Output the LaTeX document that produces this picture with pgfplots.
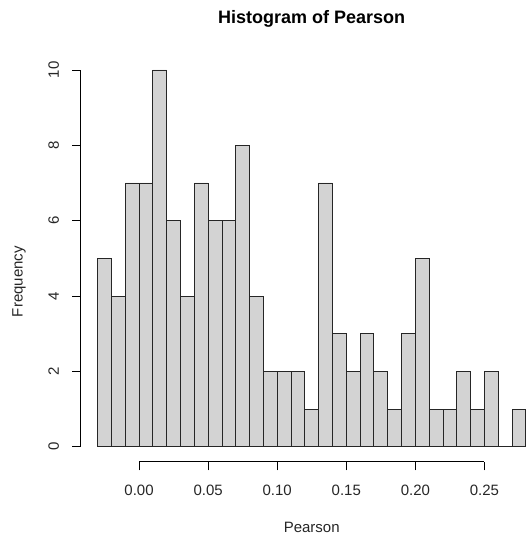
\documentclass[border=0pt]{standalone}
\usepackage{fontspec}
\setmainfont{Liberation Sans}
\usepackage{pgfplots}
\usepackage{pgfplotstable}
\pgfplotsset{compat=1.18}
\definecolor{histfill}{RGB}{211,211,211}

% bin left edges (width 0.01) and counts; last row closes the final interval
\pgfplotstableread{
x      y
-0.03  5
-0.02  4
-0.01  7
0.00   7
0.01   10
0.02   6
0.03   4
0.04   7
0.05   6
0.06   6
0.07   8
0.08   4
0.09   2
0.10   2
0.11   2
0.12   1
0.13   7
0.14   3
0.15   2
0.16   3
0.17   2
0.18   1
0.19   3
0.20   5
0.21   1
0.22   1
0.23   2
0.24   1
0.25   2
0.26   0
0.27   1
0.28   0
}\pearson

\begin{document}
\begin{tikzpicture}[x=1pt,y=1pt]
\useasboundingbox (0,0) rectangle (526,540);
\begin{axis}[
  at={(80.5pt,78.2pt)}, anchor=south west,
  scale only axis, width=462.5pt, height=406.9pt,
  xmin=-0.0424, xmax=0.2924, ymin=-0.4, ymax=10.4,
  axis x line*=bottom, axis y line*=left,
  axis line style={draw=none},
  clip=false,
  xtick={0,0.05,0.10,0.15,0.20,0.25},
  xticklabels={0.00,0.05,0.10,0.15,0.20,0.25},
  ytick={0,2,4,6,8,10},
  yticklabels={0,2,4,6,8,10},
  tick align=outside,
  major tick length=8.5pt,
  tick style={black, line width=0.9pt},
  /pgf/number format/assume math mode=true,
  ticklabel style={font=\fontsize{15}{18}\selectfont, text=black!85},
  xticklabel style={anchor=base, inner sep=0pt, yshift=-25pt},
  % rotated labels: yshift acts along the rotated frame, i.e. to the left
  yticklabel style={rotate=90, anchor=base, inner sep=0pt, yshift=13pt},
]
\addplot[ybar interval, fill=histfill, draw=black!85, line width=0.9pt]
  table[x=x, y=y] {\pearson};
\draw[line width=0.9pt, black] (axis cs:0,-0.4) -- (axis cs:0.25,-0.4);
\draw[line width=0.9pt, black] (axis cs:-0.0424,0) -- (axis cs:-0.0424,10);
\end{axis}
\node[anchor=base, font=\bfseries\fontsize{18}{21}\selectfont] at (311.7,516) {Histogram of Pearson};
\node[anchor=base, font=\fontsize{15}{18}\selectfont, text=black!85] at (311.7,7) {Pearson};
\node[anchor=base, rotate=90, font=\fontsize{15}{18}\selectfont, text=black!85] at (22.7,258.3) {Frequency};
\end{tikzpicture}
\end{document}
